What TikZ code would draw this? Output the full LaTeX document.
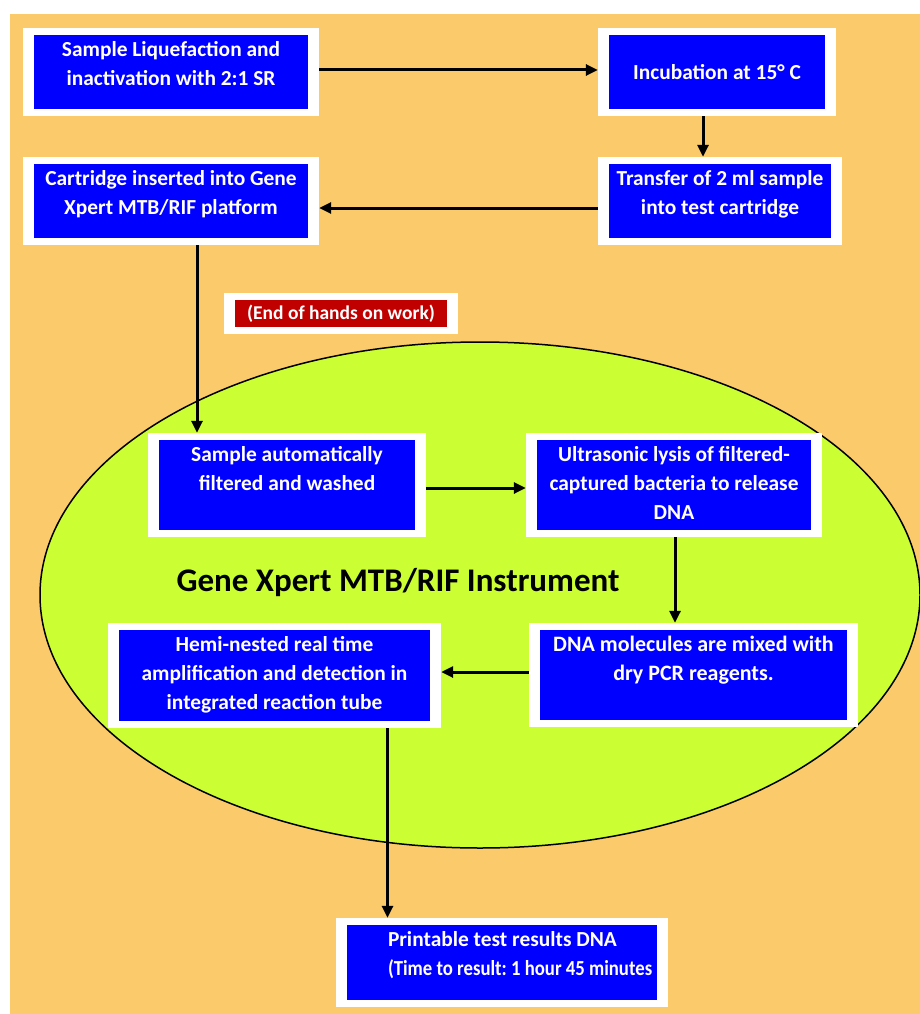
\documentclass[tikz,border=0pt]{standalone}
\usepackage{fontspec}
\setmainfont{Carlito}
\usetikzlibrary{arrows.meta}

\definecolor{bgorange}{RGB}{251,202,106}
\definecolor{instrlime}{RGB}{204,255,51}
\definecolor{boxblue}{RGB}{0,0,255}
\definecolor{tagred}{RGB}{192,0,0}

% text block hanging from the top of a framed box
\newcommand{\toptext}[3]{\parbox[c][#2][t]{#1}{\centering\rule{0pt}{28.5pt}#3}}

\begin{document}
\frenchspacing
\begin{tikzpicture}[x=1pt, y=-1pt,
    stepbox/.style={fill=white, inner sep=0pt, text=white,
        font=\fontsize{21.4}{29}\selectfont\bfseries,
        path picture={\fill[boxblue] ([shift={(11pt,-7pt)}]path picture bounding box.north west)
            rectangle ([shift={(-11pt,7pt)}]path picture bounding box.south east);}},
    tagbox/.style={fill=white, inner sep=0pt, text=white,
        font=\fontsize{19.5}{22}\selectfont\bfseries,
        path picture={\fill[tagred] ([shift={(11pt,-7pt)}]path picture bounding box.north west)
            rectangle ([shift={(-11pt,7pt)}]path picture bounding box.south east);}},
    arrow/.style={line width=3pt, -{Triangle[length=12pt,width=11pt]}}]

    \useasboundingbox (0,0) rectangle (920,1014);
    \fill[white] (0,0) rectangle (920,1014);
    \fill[bgorange] (10,14) rectangle (920,1014);

    % the instrument
    \draw[fill=instrlime, line width=1.5pt] (480,595) ellipse [x radius=440pt, y radius=253pt];
    \node[anchor=base, font=\fontsize{33}{40}\selectfont\bfseries] (title) at (398,591) {Gene Xpert MTB/RIF Instrument};

    % hands on steps
    \node[stepbox] (liquefy) at (171,72) {\toptext{296pt}{88pt}{Sample Liquefaction and\\inactivation with 2:1 SR}};
    \node[stepbox] (incubate) at (717,72) {\parbox[c][88pt][c]{238pt}{\centering Incubation at 15° C}};
    \node[stepbox] (transfer) at (720,201) {\toptext{244pt}{88pt}{Transfer of 2 ml sample\\into test cartridge}};
    \node[stepbox] (cartridge) at (171,201) {\toptext{296pt}{88pt}{Cartridge inserted into Gene\\Xpert MTB/RIF platform}};
    \node[tagbox] (handsoff) at (341,313.5) {\parbox[c][41pt][c]{234pt}{\centering (End of hands on work)}};

    % inside the instrument
    \node[stepbox] (filter) at (287,485) {\toptext{278pt}{104pt}{Sample automatically\\filtered and washed}};
    \node[stepbox] (lysis) at (674,485) {\toptext{296pt}{104pt}{Ultrasonic lysis of filtered-\\captured bacteria to release\\DNA}};
    \node[stepbox, font=\fontsize{22}{28.5}\selectfont\bfseries] (mixing) at (693.5,675) {\toptext{329pt}{104pt}{DNA molecules are mixed with\\dry PCR reagents.}};
    \node[stepbox] (amplify) at (274.5,675.5) {\toptext{333pt}{105pt}{Hemi-nested real time\\amplification and detection in\\integrated reaction tube}};
    \node[stepbox] (result) at (502,962.5) {\toptext{332pt}{89pt}{\raggedright\hspace*{52pt}Printable test results DNA\\
        \hspace*{52pt}\scalebox{0.875}[1]{(Time to result: 1 hour 45 minutes}}};

    \draw[arrow] ([yshift=2pt]liquefy.east) -- ([yshift=2pt]incubate.west);
    \draw[arrow] ([xshift=-14pt]incubate.south) -- ([xshift=-14pt]incubate.south |- transfer.north);
    \draw[arrow] ([yshift=-7pt]transfer.west) -- ([yshift=-7pt]transfer.west -| cartridge.east);
    \draw[arrow] ([xshift=26pt]cartridge.south) -- ([xshift=26pt]cartridge.south |- filter.north);
    \draw[arrow] ([yshift=-3pt]filter.east) -- ([yshift=-3pt]filter.east -| lysis.west);
    \draw[arrow] ([xshift=1pt]lysis.south) -- ([xshift=1pt]lysis.south |- mixing.north);
    \draw[arrow] ([yshift=3pt]mixing.west) -- ([yshift=3pt]mixing.west -| amplify.east);
    \draw[arrow] ([xshift=113pt]amplify.south) -- ([xshift=113pt]amplify.south |- result.north);
\end{tikzpicture}
\end{document}
